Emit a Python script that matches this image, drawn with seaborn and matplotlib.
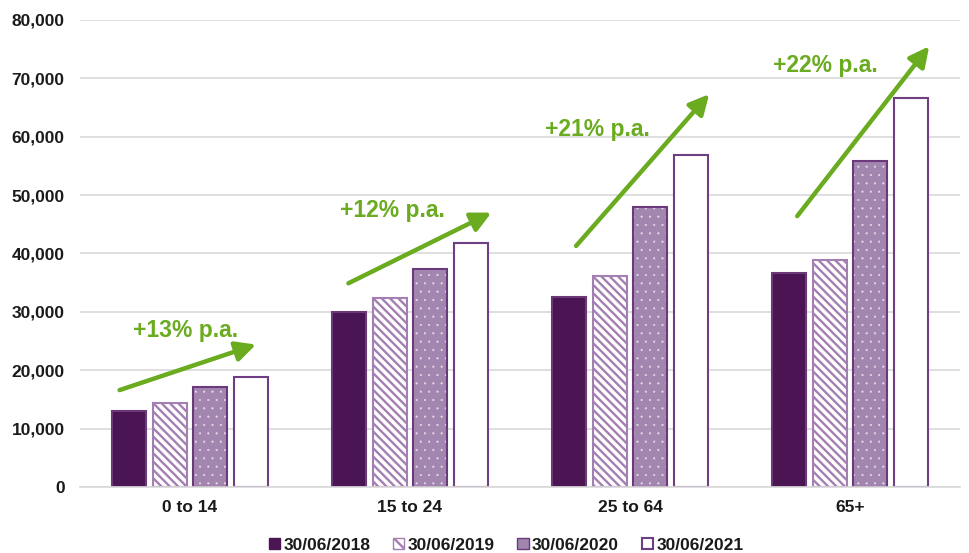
import matplotlib
matplotlib.use("Agg")
import matplotlib.pyplot as plt
from matplotlib.patches import Patch, Rectangle
from matplotlib.ticker import FuncFormatter, MultipleLocator
import pandas as pd
import seaborn as sns

# Age groups and snapshot dates
age_groups = ["0 to 14", "15 to 24", "25 to 64", "65+"]
dates = ["30/06/2018", "30/06/2019", "30/06/2020", "30/06/2021"]

# Counts per age group at each date
vals_2018 = [13100, 29900, 32600, 36600]
vals_2019 = [14400, 32300, 36200, 38900]
vals_2020 = [17100, 37300, 48000, 55900]
vals_2021 = [18900, 41800, 56900, 66700]

# Annual growth labels per age group
growth_labels = ["+13% p.a.", "+12% p.a.", "+21% p.a.", "+22% p.a."]

df = pd.DataFrame({
    "group": age_groups * 4,
    "date": [d for d in dates for _ in age_groups],
    "value": vals_2018 + vals_2019 + vals_2020 + vals_2021,
})

sns.set_theme(style="white")
plt.rcParams["font.family"] = ["Liberation Sans", "DejaVu Sans"]
plt.rcParams["hatch.linewidth"] = 1.7

DARK = "#4a1552"
STRIPE = "#a47fb2"
DOTFILL = "#a386b0"
DOTEDGE = "#6a3a7c"
OPENEDGE = "#6e3f82"
GREEN = "#6aab1f"

fig = plt.figure(figsize=(9.7, 5.53), dpi=100)
ax = fig.add_axes([80 / 970, 1 - 487 / 553, 880 / 970, 467 / 553])

sns.barplot(data=df, x="group", y="value", hue="date", order=age_groups,
            hue_order=dates, width=0.74, gap=0.16, ax=ax, legend=False,
            palette=[DARK, "white", DOTFILL, "white"], saturation=1)

styles = [
    dict(face=DARK, edge="#6a3a78", hatch=None, hatchcolor=None, hlw=None),
    dict(face="white", edge=STRIPE, hatch="\\\\\\\\", hatchcolor=STRIPE, hlw=1.7),
    dict(face=DOTFILL, edge=DOTEDGE, hatch="..", hatchcolor="#e6dcea", hlw=0.3),
    dict(face="white", edge=OPENEDGE, hatch=None, hatchcolor=None, hlw=None),
]

for cont, st in zip(ax.containers, styles):
    for bar in cont:
        bar.set_facecolor(st["face"])
        if st["hatch"]:
            bar.set_hatch(st["hatch"])
            bar.set_edgecolor(st["hatchcolor"])
            bar.set_linewidth(0)
            if hasattr(bar, "set_hatch_linewidth"):
                bar.set_hatch_linewidth(st["hlw"])
            elif hasattr(bar, "_hatch_linewidth"):
                bar._hatch_linewidth = st["hlw"]
            outline = Rectangle(bar.get_xy(), bar.get_width(), bar.get_height(),
                                fill=False, edgecolor=st["edge"], linewidth=1.5,
                                zorder=bar.get_zorder() + 0.1)
            ax.add_patch(outline)
        else:
            bar.set_edgecolor(st["edge"])
            bar.set_linewidth(1.5)

ax.set_ylim(0, 80000)
ax.set_xlim(-0.5, 3.5)
ax.yaxis.set_major_locator(MultipleLocator(10000))
ax.yaxis.set_major_formatter(FuncFormatter(lambda v, p: f"{int(v):,}"))
ax.grid(axis="y", color="#d9d9d9", linewidth=1.2)
ax.set_axisbelow(True)
for side in ["left", "right", "top"]:
    ax.spines[side].set_visible(False)
ax.spines["bottom"].set_color("#d9d9d9")
ax.spines["bottom"].set_linewidth(1.2)
ax.set_xlabel("")
ax.set_ylabel("")
ax.tick_params(axis="both", length=0, labelsize=12.5, colors="#1a1a1a")
ax.tick_params(axis="y", pad=11)
ax.tick_params(axis="x", pad=9)
for lab in ax.get_xticklabels() + ax.get_yticklabels():
    lab.set_fontweight("bold")

# Growth arrows and labels (data coordinates)
arrow_tails = [(-0.32, 16600), (0.72, 34900), (1.755, 41300), (2.76, 46400)]
arrow_heads = [(0.30, 24400), (1.37, 47000), (2.36, 67300), (3.36, 75500)]
label_pos = [(-0.02, 26800), (0.92, 47400), (1.85, 61300), (2.89, 72200)]
for tail, head, lp, txt in zip(arrow_tails, arrow_heads, label_pos, growth_labels):
    ax.annotate("", xy=head, xytext=tail,
                arrowprops=dict(arrowstyle="-|>,head_length=0.8,head_width=0.4",
                                color=GREEN, lw=3.2, shrinkA=0, shrinkB=0,
                                mutation_scale=15))
    ax.text(lp[0], lp[1], txt, color=GREEN, fontsize=16.5, fontweight="bold",
            ha="center", va="center")

handles = [
    Patch(facecolor=DARK, edgecolor=DARK),
    Patch(facecolor="white", edgecolor=STRIPE, hatch="\\\\\\"),
    Patch(facecolor=DOTFILL, edgecolor=DOTEDGE),
    Patch(facecolor="white", edgecolor=OPENEDGE, linewidth=1.5),
]
leg = fig.legend(handles, dates, loc="center", bbox_to_anchor=(506 / 970, 1 - 545 / 553),
                 ncol=4, frameon=False, handlelength=0.65, handleheight=0.65,
                 handletextpad=0.2, columnspacing=1.3, prop=dict(size=12.5, weight="bold"))
for t in leg.get_texts():
    t.set_color("#1a1a1a")

fig.savefig("out.png", dpi=100, facecolor="white")
